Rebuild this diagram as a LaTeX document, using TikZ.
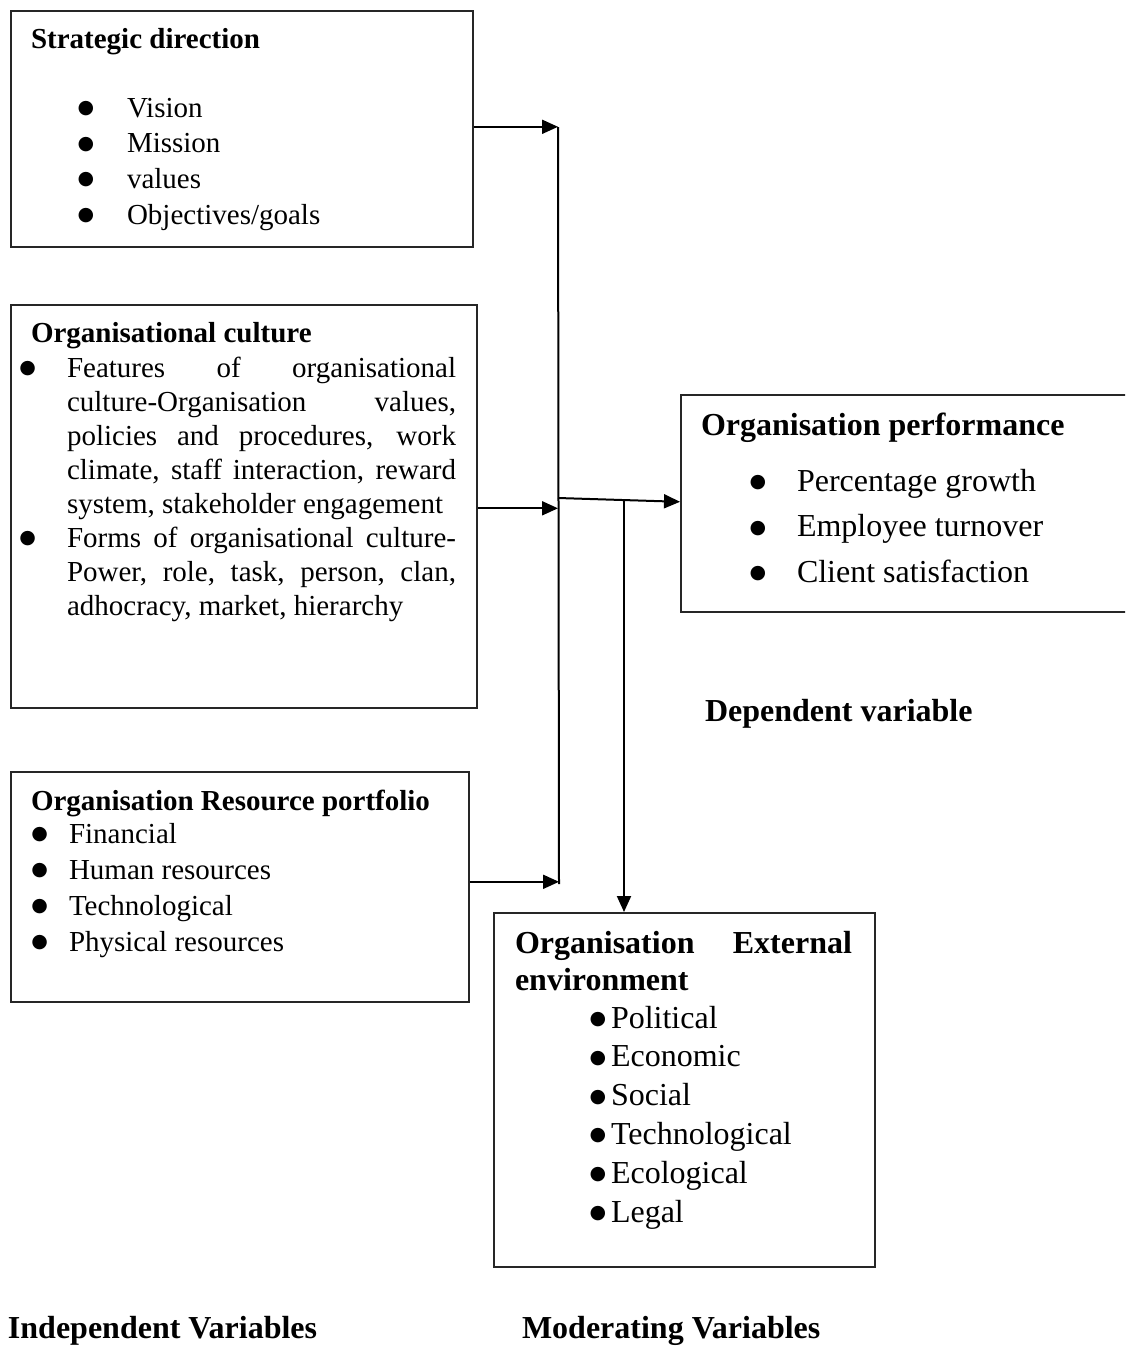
\documentclass[tikz,border=0pt]{standalone}
\usepackage{fontspec}
\setmainfont{Liberation Serif}
\newfontfamily\dejavu{DejaVu Sans}
\usetikzlibrary{arrows.meta,calc}
\newcommand{\fsz}[2]{\fontsize{#1}{#2}\selectfont}
\newcommand{\jl}[2]{\makebox[#1pt][s]{#2}}
\newcommand{\bul}{\rlap{\hspace*{-2pt}\raisebox{3.5pt}{\dejavu\fontsize{19}{19}\selectfont ●}}}
\begin{document}
\begin{tikzpicture}[x=1pt,y=-1pt,
  box/.style={draw=black!85, line width=1.6pt, inner sep=0pt, anchor=north west},
  txt/.style={anchor=base west, inner sep=0pt, outer sep=0pt},
  arr/.style={line width=2pt, -{Triangle[length=16pt,width=14pt]}},
  conn/.style={line width=2pt}]
\useasboundingbox (0,0) rectangle (1125,1347);
\clip (0,0) rectangle (1125,1347);
\fill[white] (0,0) rectangle (1125,1347);

% ---------- boxes
\node[box, minimum width=462, minimum height=236] (sd) at (10,10) {};
\node[box, minimum width=466, minimum height=403] (oc) at (10,304) {};
\node[box, minimum width=458, minimum height=230] (rp) at (10,771) {};
\node[box, minimum width=470, minimum height=217] (perf) at (680,394) {};
\node[box, minimum width=381, minimum height=354] (ext) at (493,912) {};

% ---------- Strategic direction
\node[txt, font=\bfseries\fsz{29}{35.7}] (sdT) at (31,48) {Strategic direction};
\node[txt, font=\fsz{29}{35.7}] (sdB) at (79,117) {\begin{tabular}[t]{@{}l@{}}\bul\\\bul\\\bul\\\bul\end{tabular}};
\node[txt, font=\fsz{29}{35.7}] (sdL) at (127,117) {\begin{tabular}[t]{@{}l@{}}Vision\\Mission\\values\\Objectives/goals\end{tabular}};

% ---------- Organisational culture
\node[txt, font=\bfseries\fsz{29}{34}] (ocT) at (31,342) {Organisational culture};
\node[txt, font=\fsz{29}{34}] (ocB) at (21,377) {\begin{tabular}[t]{@{}l@{}}\bul\\ \\ \\ \\ \\\bul\end{tabular}};
\node[txt, font=\fsz{29}{34}] (ocL) at (67,377) {\begin{tabular}[t]{@{}l@{}}
\jl{389}{Features of organisational}\\
\jl{389}{culture-Organisation values,}\\
\jl{389}{policies and procedures, work}\\
\jl{389}{climate, staff interaction, reward}\\
system, stakeholder engagement\\
\jl{389}{Forms of organisational culture-}\\
\jl{389}{Power, role, task, person, clan,}\\
adhocracy, market, hierarchy\end{tabular}};

% ---------- Resource portfolio
\node[txt, font=\bfseries\fsz{29}{36}] (rpT) at (31,810) {Organisation Resource portfolio};
\node[txt, font=\fsz{29}{36}] (rpB) at (33,843) {\begin{tabular}[t]{@{}l@{}}\bul\\\bul\\\bul\\\bul\end{tabular}};
\node[txt, font=\fsz{29}{36}] (rpL) at (69,843) {\begin{tabular}[t]{@{}l@{}}Financial\\Human resources\\Technological\\Physical resources\end{tabular}};

% ---------- Organisation performance
\node[txt, font=\bfseries\fsz{32}{40}] (pfT) at (701,435) {Organisation performance};
\node[txt, font=\fsz{32}{45.5}] (pfB) at (751,491) {\begin{tabular}[t]{@{}l@{}}\bul\\\bul\\\bul\end{tabular}};
\node[txt, font=\fsz{32}{45.5}] (pfL) at (797,491) {\begin{tabular}[t]{@{}l@{}}Percentage growth\\Employee turnover\\Client satisfaction\end{tabular}};

% ---------- External environment
\node[txt, font=\bfseries\fsz{32}{37}] (exT) at (515,953) {\begin{tabular}[t]{@{}l@{}}\jl{337}{Organisation External}\\environment\end{tabular}};
\node[txt, font=\fsz{32}{38.8}] (exB) at (591,1028) {\begin{tabular}[t]{@{}l@{}}\bul\\\bul\\\bul\\\bul\\\bul\\\bul\end{tabular}};
\node[txt, font=\fsz{32}{38.8}] (exL) at (611,1028) {\begin{tabular}[t]{@{}l@{}}Political\\Economic\\Social\\Technological\\Ecological\\Legal\end{tabular}};

% ---------- labels
\node[txt, font=\bfseries\fsz{32}{38}] (dep) at (705,721) {Dependent variable};
\node[txt, font=\bfseries\fsz{32}{38}] (ind) at (8,1338) {Independent Variables};
\node[txt, font=\bfseries\fsz{32}{38}] (mod) at (522,1338) {Moderating Variables};

% ---------- connectors
\coordinate (jt) at (558,127);
\coordinate (jb) at (559,884);
\coordinate (jm) at (558,498);
\coordinate (br) at (624,499);
\draw[conn] (jt) -- (jb);
\draw[arr] ([yshift=2pt]sd.east) -- ([yshift=2pt]sd.east -| jt);
\draw[arr] ([yshift=-2pt]oc.east) -- ([yshift=-2pt]oc.east -| jt);
\draw[arr] ([yshift=5pt]rp.east) -- ([yshift=5pt]rp.east -| jb);
\draw[arr] (jm) -- ([yshift=1.5pt]perf.west);
\draw[arr] (br) -- (br |- ext.north);
\end{tikzpicture}
\end{document}
